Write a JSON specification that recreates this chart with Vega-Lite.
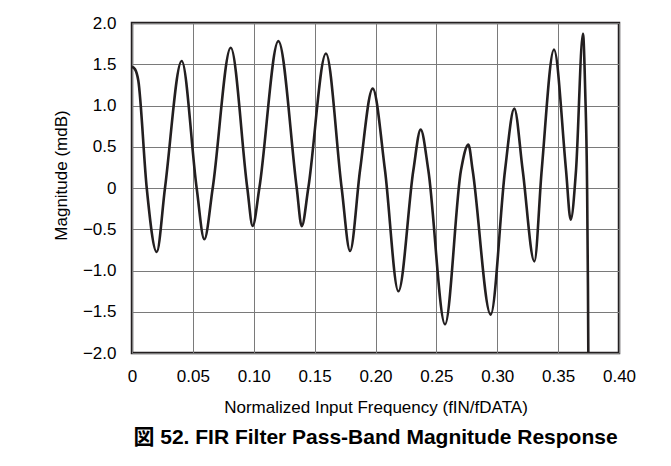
{
  "$schema": "https://vega.github.io/schema/vega-lite/v6.json",
  "width": 487,
  "height": 330,
  "autosize": {"type": "none"},
  "padding": {"left": 132, "top": 23, "right": 52, "bottom": 113},
  "background": "white",
  "config": {
    "font": "Liberation Sans",
    "view": {"stroke": "#231f20", "strokeWidth": 2.5},
    "axis": {
      "grid": true,
      "gridColor": "#7a7a7a",
      "gridWidth": 1,
      "ticks": false,
      "domain": false,
      "labelFont": "Liberation Sans",
      "labelFontSize": 17,
      "labelColor": "#000000",
      "labelFlush": false,
      "titleFont": "Liberation Sans",
      "titleFontSize": 17,
      "titleFontWeight": "normal",
      "titleColor": "#000000"
    }
  },
  "title": {
    "text": "図 52. FIR Filter Pass-Band Magnitude Response",
    "orient": "bottom",
    "anchor": "middle",
    "font": "Liberation Sans, Noto Sans CJK JP",
    "fontSize": 21,
    "fontWeight": "bold",
    "color": "#000000",
    "offset": 12
  },
  "data": {
    "values": [
      {"f": 0.0000, "m": 1.47},
      {"f": 0.0025, "m": 1.44},
      {"f": 0.0052, "m": 1.30},
      {"f": 0.0121, "m": 0.0},
      {"f": 0.0203, "m": -0.776},
      {"f": 0.0271, "m": 0.0},
      {"f": 0.0408, "m": 1.54},
      {"f": 0.0531, "m": 0.0},
      {"f": 0.0594, "m": -0.622},
      {"f": 0.0663, "m": 0.0},
      {"f": 0.0811, "m": 1.70},
      {"f": 0.0947, "m": 0.0},
      {"f": 0.0991, "m": -0.46},
      {"f": 0.1046, "m": 0.0},
      {"f": 0.1202, "m": 1.78},
      {"f": 0.1353, "m": 0.0},
      {"f": 0.1394, "m": -0.464},
      {"f": 0.1448, "m": 0.0},
      {"f": 0.1593, "m": 1.63},
      {"f": 0.1722, "m": 0.0},
      {"f": 0.1791, "m": -0.764},
      {"f": 0.1873, "m": 0.215},
      {"f": 0.1977, "m": 1.205},
      {"f": 0.2078, "m": 0.215},
      {"f": 0.2188, "m": -1.252},
      {"f": 0.2311, "m": 0.215},
      {"f": 0.2371, "m": 0.708},
      {"f": 0.2434, "m": 0.215},
      {"f": 0.2571, "m": -1.652},
      {"f": 0.2702, "m": 0.215},
      {"f": 0.2763, "m": 0.526},
      {"f": 0.2798, "m": 0.215},
      {"f": 0.2946, "m": -1.535},
      {"f": 0.3064, "m": 0.215},
      {"f": 0.3140, "m": 0.962},
      {"f": 0.3209, "m": 0.215},
      {"f": 0.3305, "m": -0.889},
      {"f": 0.3365, "m": 0.215},
      {"f": 0.3466, "m": 1.677},
      {"f": 0.3565, "m": 0.215},
      {"f": 0.3603, "m": -0.383},
      {"f": 0.3647, "m": 0.215},
      {"f": 0.3704, "m": 1.87},
      {"f": 0.3722, "m": 1.2},
      {"f": 0.3738, "m": 0.0},
      {"f": 0.3745, "m": -1.2},
      {"f": 0.3748, "m": -2.0}
    ]
  },
  "mark": {"type": "line", "interpolate": "monotone", "color": "#231f20", "strokeWidth": 2.6, "clip": true},
  "encoding": {
    "x": {
      "field": "f",
      "type": "quantitative",
      "scale": {"domain": [0, 0.4], "nice": false, "zero": false},
      "axis": {
        "values": [0, 0.05, 0.1, 0.15, 0.2, 0.25, 0.3, 0.35, 0.4],
        "labelExpr": "datum.value == 0 ? '0' : format(datum.value, '.2f')",
        "labelPadding": 15,
        "titlePadding": 15,
        "title": "Normalized Input Frequency (fIN/fDATA)"
      }
    },
    "y": {
      "field": "m",
      "type": "quantitative",
      "scale": {"domain": [-2, 2], "nice": false, "zero": false},
      "axis": {
        "values": [-2, -1.5, -1, -0.5, 0, 0.5, 1, 1.5, 2],
        "labelExpr": "datum.value == 0 ? '0' : format(datum.value, '.1f')",
        "labelPadding": 16,
        "titlePadding": 12,
        "titleY": 152,
        "title": "Magnitude (mdB)"
      }
    }
  }
}
